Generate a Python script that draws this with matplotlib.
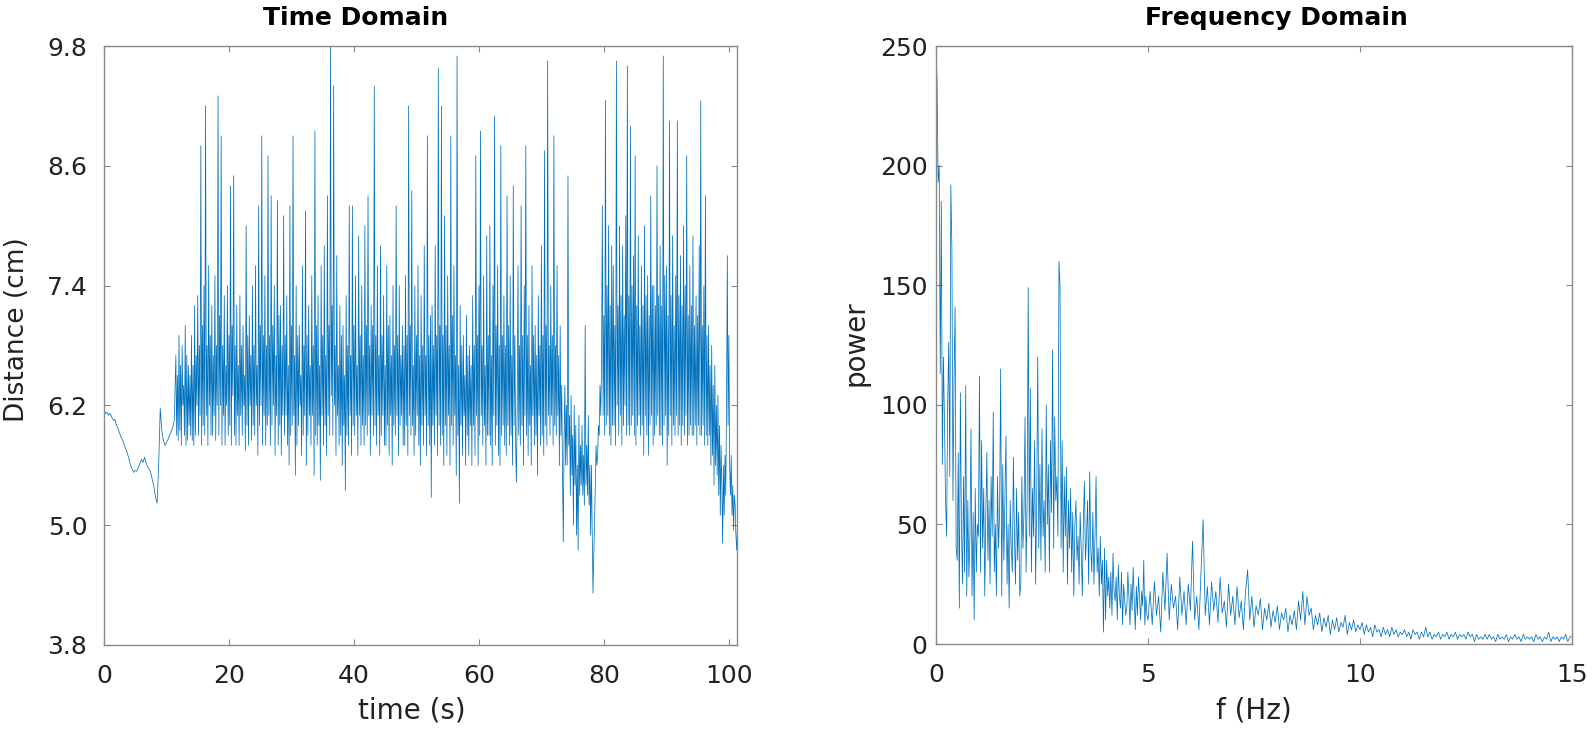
import numpy as np
import matplotlib
matplotlib.use("Agg")
import matplotlib.pyplot as plt

# ---------------- data ----------------
# resting part, 0 - 11.25 s, one sample every 0.25 s
rest_dt = 0.25
distance_rest = [
    6.15, 6.12, 6.13, 6.10, 6.12, 6.08, 6.05, 6.06, 6.00, 5.97,
    5.92, 5.88, 5.85, 5.80, 5.76, 5.72, 5.66, 5.60, 5.56, 5.53,
    5.55, 5.54, 5.58, 5.62, 5.66, 5.63, 5.68, 5.62, 5.58, 5.56,
    5.52, 5.45, 5.38, 5.28, 5.22, 5.60, 6.17, 5.95, 5.85, 5.80,
    5.83, 5.86, 5.90, 5.94, 5.98, 6.05,
]
# active part, from 11.5 s on, one sample every 0.125 s (rows of 2.5 s)
task_start = 11.5
task_dt = 0.125
distance_task = [
    6.7, 5.9, 6.5, 5.85, 6.9, 5.95, 6.6, 5.8, 6.8, 6.2, 6.4, 5.9, 7.0, 5.8, 6.7, 5.85, 6.6, 6.0, 6.5, 5.9,
    6.9, 5.85, 6.6, 5.8, 7.2, 5.9, 6.7, 6.2, 7.3, 5.9, 6.8, 6.1, 8.8, 5.8, 7.0, 6.0, 7.4, 5.9, 9.2, 6.1,
    6.8, 5.8, 7.6, 6.2, 6.9, 5.9, 7.2, 5.9, 6.7, 6.1, 7.5, 5.85, 6.8, 6.2, 9.3, 5.9, 7.1, 6.2, 8.9, 5.8,
    6.8, 6.1, 7.3, 5.8, 6.6, 6.2, 7.4, 5.9, 6.9, 6.0, 8.4, 5.8, 7.0, 6.3, 8.5, 5.9, 6.8, 5.8, 7.2, 6.1,
    6.6, 5.8, 7.3, 6.1, 6.8, 5.9, 7.0, 6.2, 6.5, 5.75, 8.0, 6.0, 6.9, 5.8, 7.1, 6.2, 6.7, 5.85, 7.4, 6.0,
    6.8, 5.9, 7.6, 6.2, 6.6, 5.7, 8.2, 6.0, 7.0, 6.2, 8.9, 5.8, 6.9, 6.1, 7.5, 5.8, 6.8, 6.0, 8.7, 6.1,
    6.9, 5.8, 8.3, 6.0, 7.0, 6.2, 7.4, 5.7, 6.7, 6.1, 8.25, 5.8, 7.1, 6.0, 7.2, 5.7, 6.8, 6.1, 8.1, 5.9,
    6.9, 6.1, 7.3, 5.8, 6.6, 5.6, 8.2, 5.9, 7.0, 6.0, 8.9, 6.1, 6.7, 5.5, 7.4, 5.8, 6.9, 6.0, 7.0, 6.2,
    6.5, 5.7, 7.6, 5.9, 6.8, 6.1, 8.15, 5.6, 6.9, 5.9, 7.2, 6.1, 6.6, 5.8, 7.5, 6.1, 6.8, 5.5, 8.95, 5.9,
    7.0, 5.8, 7.3, 6.0, 6.6, 5.45, 7.6, 6.1, 6.9, 5.8, 7.8, 6.0, 6.7, 5.7, 8.3, 6.1, 7.0, 5.9, 9.8, 6.3,
    7.2, 5.9, 9.4, 6.2, 6.8, 5.7, 7.7, 6.1, 6.6, 5.8, 7.2, 5.9, 6.9, 5.6, 7.0, 6.0, 6.5, 5.35, 7.3, 5.9,
    6.8, 5.8, 8.2, 6.1, 6.7, 5.7, 8.2, 6.0, 7.0, 5.9, 7.5, 6.1, 6.6, 5.7, 7.9, 6.1, 6.9, 5.8, 7.4, 6.0,
    6.7, 5.8, 8.0, 6.0, 7.0, 5.9, 8.3, 6.1, 6.8, 5.7, 7.2, 6.1, 7.0, 5.9, 9.4, 6.0, 6.9, 5.8, 7.6, 6.1,
    6.7, 5.7, 7.8, 5.9, 6.9, 6.1, 7.3, 5.8, 6.6, 5.8, 7.6, 6.0, 7.0, 5.7, 7.1, 6.1, 6.7, 5.6, 7.4, 6.0,
    6.8, 5.9, 8.2, 6.1, 6.9, 5.7, 7.4, 6.0, 6.7, 6.1, 7.0, 5.8, 6.8, 5.8, 7.5, 6.0, 6.9, 5.7, 9.2, 6.1,
    7.0, 5.9, 8.35, 6.0, 6.6, 5.7, 7.4, 5.9, 6.9, 6.1, 7.6, 5.8, 6.7, 5.6, 7.3, 6.0, 6.8, 5.8, 7.8, 6.1,
    6.7, 5.7, 8.9, 6.0, 6.9, 5.8, 7.1, 5.28, 7.2, 6.0, 6.8, 5.8, 7.8, 6.1, 6.9, 5.7, 9.58, 6.0, 7.0, 5.8,
    9.2, 5.9, 6.9, 5.6, 8.1, 6.0, 7.0, 5.7, 7.5, 6.1, 6.8, 5.6, 8.9, 6.0, 7.1, 5.8, 7.6, 6.1, 6.7, 5.5,
    9.7, 5.9, 6.6, 5.22, 7.2, 6.0, 6.8, 5.7, 6.9, 6.1, 6.5, 5.6, 7.1, 5.9, 6.7, 5.7, 6.8, 6.0, 6.6, 5.6,
    7.3, 6.0, 6.8, 5.7, 8.7, 6.1, 6.9, 5.6, 7.4, 5.9, 8.95, 6.1, 6.8, 5.8, 7.5, 6.0, 6.6, 5.6, 7.9, 5.9,
    6.9, 5.9, 8.0, 5.8, 6.7, 5.6, 7.4, 6.1, 9.1, 5.8, 7.0, 6.0, 7.6, 5.7, 6.8, 5.6, 8.8, 5.9, 6.9, 6.0,
    7.3, 5.8, 6.8, 5.7, 8.3, 6.0, 7.0, 5.8, 7.5, 5.9, 6.7, 5.6, 8.4, 6.0, 6.9, 5.8, 5.43, 6.2, 7.6, 5.9,
    6.8, 5.8, 8.2, 6.0, 6.9, 5.6, 7.4, 6.1, 8.8, 5.9, 6.9, 5.7, 7.2, 6.0, 6.6, 5.6, 7.6, 6.1, 6.9, 5.8,
    7.0, 5.9, 6.7, 5.5, 7.3, 6.1, 6.8, 5.8, 7.8, 5.9, 6.9, 5.7, 8.75, 6.0, 7.0, 5.8, 9.65, 6.1, 6.8, 5.9,
    7.4, 6.1, 6.9, 5.8, 8.9, 6.0, 6.8, 5.9, 7.6, 6.1, 6.7, 5.6, 7.0, 5.9, 6.4, 5.5, 4.83, 5.9, 6.4, 5.6,
    6.2, 5.6, 8.5, 5.8, 6.1, 5.3, 6.3, 5.5, 5.9, 5.0, 6.2, 5.4, 6.0, 4.9, 5.6, 4.75, 6.1, 5.3, 5.8, 5.4,
    6.0, 5.3, 5.7, 5.2, 7.0, 5.4, 5.8, 5.3, 6.1, 5.2, 5.6, 4.9, 5.6, 5.0, 4.32, 4.7, 5.0, 5.4, 5.8, 5.6,
    5.7, 6.0, 5.9, 6.4, 6.1, 6.6, 8.2, 6.1, 7.1, 5.9, 9.26, 6.0, 7.4, 6.1, 8.0, 5.9, 7.2, 5.8, 7.8, 6.0,
    7.6, 6.0, 7.0, 5.8, 9.65, 6.2, 7.2, 5.9, 8.0, 6.1, 7.3, 5.8, 7.8, 6.0, 7.1, 6.2, 8.1, 5.9, 9.6, 6.0,
    7.3, 5.9, 9.0, 6.0, 7.4, 6.1, 7.7, 5.9, 8.7, 5.8, 7.2, 6.0, 7.9, 6.1, 7.0, 5.9, 7.6, 6.0, 7.2, 5.7,
    8.0, 6.1, 7.3, 5.9, 7.5, 5.7, 7.1, 6.0, 8.3, 6.1, 7.4, 5.8, 7.4, 5.9, 7.2, 6.0, 8.6, 6.1, 7.3, 5.9,
    7.8, 5.9, 7.2, 5.8, 9.7, 6.0, 7.5, 6.1, 7.6, 5.6, 7.1, 5.9, 9.05, 6.1, 7.3, 5.8, 7.9, 6.0, 7.0, 5.9,
    7.5, 6.1, 9.05, 5.9, 7.3, 6.0, 7.7, 5.8, 7.2, 6.0, 8.0, 5.9, 7.4, 6.1, 8.7, 5.8, 7.1, 5.9, 7.6, 6.0,
    7.2, 5.9, 7.9, 5.9, 7.0, 6.0, 7.3, 5.8, 7.1, 6.0, 7.8, 5.9, 9.25, 5.9, 7.0, 6.0, 7.4, 5.8, 8.3, 5.9,
    6.9, 5.8, 7.0, 5.9, 6.6, 5.6, 6.8, 5.7, 6.4, 5.4, 6.6, 5.6, 6.2, 5.5, 6.3, 5.3, 6.0, 5.1, 5.8, 5.4,
    4.82, 5.6, 5.1, 5.7, 5.3, 6.2, 7.7, 6.0, 6.9, 5.6, 5.3, 5.7, 5.1, 5.4, 4.95, 5.3, 5.2, 4.9, 4.75, 5.0,
]

# spectrum: 0 - 4.975 Hz every 0.025 Hz, then 5 - 15 Hz every 0.05 Hz
low_df = 0.025
power_low = [
    250, 235, 193, 200, 113, 185, 75, 120, 93, 60, 45, 100, 126, 70, 192, 165, 60, 110, 141, 40,
    35, 80, 15, 105, 50, 25, 70, 30, 108, 20, 60, 28, 45, 90, 20, 55, 10, 65, 30, 50,
    45, 112, 30, 85, 40, 65, 20, 55, 80, 35, 60, 25, 70, 45, 97, 30, 50, 20, 70, 40,
    55, 115, 20, 75, 35, 60, 87, 25, 50, 15, 60, 40, 30, 78, 45, 25, 65, 35, 55, 20,
    25, 70, 40, 55, 95, 30, 60, 149, 45, 107, 30, 65, 45, 85, 25, 60, 120, 40, 75, 35,
    90, 45, 60, 30, 100, 50, 75, 30, 85, 55, 123, 40, 95, 60, 70, 45, 160, 150, 40, 85,
    30, 70, 45, 74, 25, 60, 40, 65, 30, 55, 20, 50, 60, 35, 45, 25, 55, 40, 20, 50,
    68, 35, 45, 60, 25, 72, 40, 30, 55, 25, 45, 70, 30, 40, 20, 45, 25, 35, 5, 40,
    10, 35, 20, 28, 15, 30, 12, 38, 22, 18, 28, 10, 33, 20, 15, 30, 8, 25, 18, 12,
    15, 30, 20, 8, 25, 14, 32, 18, 6, 24, 12, 28, 20, 10, 22, 16, 35, 8, 20, 12,
]
high_start = 5.0
high_df = 0.05
power_high = [
    10, 22, 8, 26, 12, 20, 5, 30, 14, 38, 10, 25, 15, 20, 6, 28, 12, 22, 8, 25,
    14, 43, 10, 20, 6, 30, 52, 12, 24, 8, 26, 14, 22, 9, 28, 13, 18, 7, 25, 12,
    20, 8, 24, 11, 18, 6, 22, 31, 10, 20, 7, 16, 12, 19, 6, 15, 10, 17, 7, 14,
    9, 16, 6, 13, 10, 15, 5, 12, 8, 14, 6, 18, 10, 22, 8, 20, 12, 15, 6, 12,
    8, 13, 5, 11, 7, 12, 4, 10, 6, 11, 5, 9, 7, 12, 4, 9, 6, 10, 5, 8,
    6, 9, 4, 8, 5, 7, 3, 8, 5, 6, 3, 7, 4, 6, 3, 7, 4, 6, 3, 5,
    4, 6, 3, 5, 2, 6, 4, 5, 2, 5, 3, 7, 3, 5, 2, 4, 3, 5, 2, 4,
    3, 5, 2, 4, 3, 5, 2, 4, 3, 4, 2, 5, 3, 4, 1, 4, 2, 3, 2, 4,
    2, 4, 2, 3, 1, 4, 2, 3, 2, 4, 1, 3, 2, 4, 2, 3, 1, 4, 2, 3,
    2, 3, 1, 4, 2, 3, 1, 3, 2, 5, 1, 3, 2, 3, 1, 3, 2, 4, 1, 3,
    3,
]

time_ticks = [0, 20, 40, 60, 80, 100]
dist_ticks = [3.8, 5.0, 6.2, 7.4, 8.6, 9.8]
freq_ticks = [0, 5, 10, 15]
power_ticks = [0, 50, 100, 150, 200, 250]

# ---------------- figure ----------------
plt.rcParams['font.family'] = ['DejaVu Sans']
W, H = 1595, 734
fig = plt.figure(figsize=(W / 100, H / 100), dpi=100)

LINE = '#0072BD'
SPINE = '#8a8a8a'
TXT = '#222222'

def px_axes(l, r, t, b):
    return fig.add_axes([l / W, (H - b) / H, (r - l) / W, (b - t) / H])

def style(ax):
    for s in ax.spines.values():
        s.set_color(SPINE)
        s.set_linewidth(1.0)
    ax.tick_params(direction='in', length=4.5, width=0.8, color=SPINE,
                   top=True, right=True, labelsize=18, labelcolor=TXT)

# Time domain
ax1 = px_axes(104, 737, 46, 645)
time = np.concatenate([np.arange(len(distance_rest)) * rest_dt,
                       task_start + np.arange(len(distance_task)) * task_dt])
distance = np.concatenate([distance_rest, distance_task])
ax1.plot(time, distance, color=LINE, lw=0.55)
ax1.set_xlim(0, 101.3)
ax1.set_ylim(3.8, 9.8)
ax1.set_xticks(time_ticks)
ax1.set_yticks(dist_ticks)
ax1.set_yticklabels([f"{v:.1f}" for v in dist_ticks])
style(ax1)
ax1.tick_params(axis='x', pad=14)
ax1.tick_params(axis='y', pad=12)

# Frequency domain
ax2 = px_axes(936, 1572, 46, 644)
freq = np.concatenate([np.arange(len(power_low)) * low_df,
                       high_start + np.arange(len(power_high)) * high_df])
power = np.concatenate([power_low, power_high])
ax2.plot(freq, power, color=LINE, lw=0.55)
ax2.set_xlim(0, 15)
ax2.set_ylim(0, 250)
ax2.set_xticks(freq_ticks)
ax2.set_yticks(power_ticks)
style(ax2)
ax2.tick_params(axis='x', pad=14)
ax2.tick_params(axis='y', pad=6)

# titles and labels (placed in figure pixels)
def ftext(x, y, s, **kw):
    kw.setdefault('color', TXT)
    fig.text(x / W, 1 - y / H, s, ha='center', va='center', **kw)

ftext(356, 18, 'Time Domain', fontsize=18, fontweight='bold', color='black')
ftext(1276, 18, 'Frequency Domain', fontsize=18, fontweight='bold', color='black')
ftext(412, 711, 'time (s)', fontsize=20)
ftext(1254, 711, 'f (Hz)', fontsize=20)
ftext(17, 330, 'Distance (cm)', fontsize=19, rotation=90)
ftext(855, 343, 'power', fontsize=20, rotation=90)

fig.savefig('out.png', dpi=100)
